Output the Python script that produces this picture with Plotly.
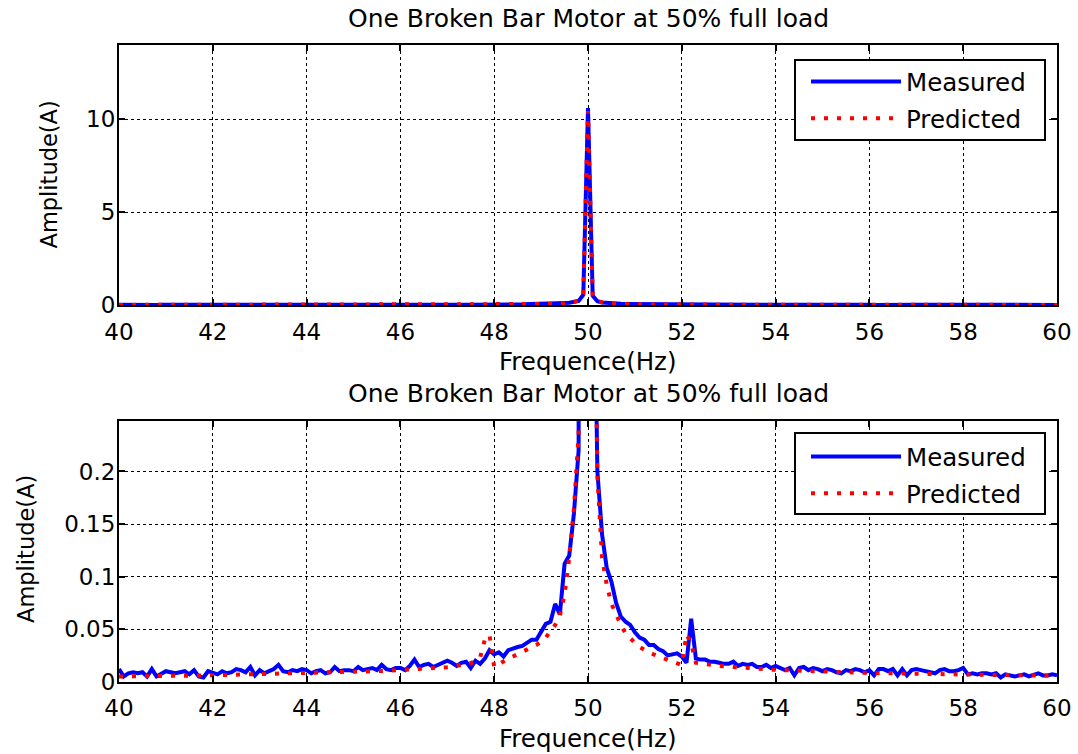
import plotly.graph_objects as go

# Frequency grid of the spectrum (Hz), 0.1 Hz resolution
freq = [round(40 + 0.1 * i, 1) for i in range(201)]

# Measured stator current spectrum (A)
measured = [
    # 40.0 - 40.9
    0.012, 0.005, 0.008, 0.009, 0.008, 0.009, 0.005, 0.012, 0.005, 0.008,
    # 41.0 - 41.9
    0.010, 0.009, 0.008, 0.009, 0.010, 0.007, 0.011, 0.005, 0.004, 0.010,
    # 42.0 - 42.9
    0.008, 0.007, 0.010, 0.008, 0.009, 0.012, 0.011, 0.009, 0.014, 0.006,
    # 43.0 - 43.9
    0.011, 0.008, 0.010, 0.012, 0.016, 0.010, 0.009, 0.011, 0.010, 0.012,
    # 44.0 - 44.9
    0.011, 0.008, 0.010, 0.011, 0.008, 0.009, 0.014, 0.010, 0.011, 0.011,
    # 45.0 - 45.9
    0.010, 0.014, 0.011, 0.012, 0.013, 0.011, 0.016, 0.012, 0.011, 0.013,
    # 46.0 - 46.9
    0.013, 0.011, 0.015, 0.021, 0.014, 0.016, 0.017, 0.014, 0.016, 0.017,
    # 47.0 - 47.9
    0.020, 0.018, 0.015, 0.018, 0.019, 0.013, 0.020, 0.017, 0.022, 0.030,
    # 48.0 - 48.9
    0.026, 0.028, 0.024, 0.030, 0.032, 0.033, 0.034, 0.037, 0.040, 0.040,
    # 49.0 - 49.9
    0.047, 0.055, 0.057, 0.074, 0.064, 0.112, 0.120, 0.160, 0.220, 0.550,
    # 50.0
    10.60,
    # 50.1 - 50.9
    0.500, 0.200, 0.140, 0.108, 0.095, 0.075, 0.062, 0.057, 0.054,
    # 51.0 - 51.9
    0.047, 0.042, 0.040, 0.035, 0.035, 0.031, 0.029, 0.025, 0.026, 0.027,
    # 52.0 - 52.9
    0.024, 0.018, 0.060, 0.022, 0.021, 0.021, 0.019, 0.019, 0.018, 0.017,
    # 53.0 - 53.9
    0.017, 0.019, 0.015, 0.017, 0.016, 0.017, 0.014, 0.014, 0.016, 0.013,
    # 54.0 - 54.9
    0.015, 0.013, 0.011, 0.013, 0.006, 0.013, 0.014, 0.011, 0.013, 0.012,
    # 55.0 - 55.9
    0.010, 0.012, 0.011, 0.009, 0.008, 0.011, 0.010, 0.012, 0.011, 0.009,
    # 56.0 - 56.9
    0.011, 0.006, 0.012, 0.012, 0.010, 0.012, 0.006, 0.012, 0.006, 0.011,
    # 57.0 - 57.9
    0.012, 0.011, 0.010, 0.009, 0.008, 0.011, 0.012, 0.010, 0.010, 0.011,
    # 58.0 - 58.9
    0.013, 0.007, 0.008, 0.007, 0.008, 0.008, 0.007, 0.008, 0.004, 0.007,
    # 59.0 - 59.9
    0.006, 0.005, 0.006, 0.007, 0.005, 0.007, 0.008, 0.006, 0.006, 0.007,
    # 60.0
    0.006,
]

# Model-predicted spectrum (A)
predicted = [
    # 40.0 - 40.9
    0.0050, 0.0050, 0.0051, 0.0051, 0.0052, 0.0052, 0.0053, 0.0053, 0.0054, 0.0054,
    # 41.0 - 41.9
    0.0055, 0.0055, 0.0056, 0.0056, 0.0057, 0.0057, 0.0058, 0.0059, 0.0059, 0.0060,
    # 42.0 - 42.9
    0.0061, 0.0061, 0.0062, 0.0063, 0.0063, 0.0064, 0.0065, 0.0066, 0.0066, 0.0067,
    # 43.0 - 43.9
    0.0068, 0.0069, 0.0070, 0.0071, 0.0072, 0.0073, 0.0074, 0.0075, 0.0076, 0.0077,
    # 44.0 - 44.9
    0.0078, 0.0079, 0.0080, 0.0081, 0.0083, 0.0084, 0.0085, 0.0087, 0.0088, 0.0090,
    # 45.0 - 45.9
    0.0091, 0.0093, 0.0095, 0.0096, 0.0098, 0.0100, 0.0102, 0.0104, 0.0106, 0.0108,
    # 46.0 - 46.9
    0.0110, 0.0112, 0.0115, 0.0117, 0.0120, 0.0122, 0.0125, 0.0128, 0.0131, 0.0134,
    # 47.0 - 47.9
    0.0138, 0.0142, 0.0150, 0.0158, 0.0166, 0.0178, 0.0195, 0.0230, 0.0400, 0.0445,
    # 48.0 - 48.9
    0.0140, 0.0170, 0.0190, 0.0220, 0.0240, 0.0260, 0.0280, 0.0300, 0.0320, 0.0350,
    # 49.0 - 49.9
    0.0380, 0.0420, 0.0480, 0.0540, 0.0630, 0.0830, 0.1180, 0.1650, 0.2350, 0.6000,
    # 50.0
    10.45,
    # 50.1 - 50.9
    0.5500, 0.1950, 0.1180, 0.0920, 0.0740, 0.0630, 0.0540, 0.0460, 0.0410,
    # 51.0 - 51.9
    0.0370, 0.0330, 0.0300, 0.0280, 0.0260, 0.0240, 0.0225, 0.0210, 0.0190, 0.0175,
    # 52.0 - 52.9
    0.0160, 0.0450, 0.0360, 0.0180, 0.0172, 0.0166, 0.0160, 0.0155, 0.0150, 0.0146,
    # 53.0 - 53.9
    0.0142, 0.0138, 0.0134, 0.0131, 0.0128, 0.0125, 0.0122, 0.0120, 0.0117, 0.0115,
    # 54.0 - 54.9
    0.0113, 0.0111, 0.0109, 0.0107, 0.0105, 0.0103, 0.0101, 0.0100, 0.0098, 0.0097,
    # 55.0 - 55.9
    0.0095, 0.0094, 0.0092, 0.0091, 0.0090, 0.0088, 0.0087, 0.0086, 0.0085, 0.0084,
    # 56.0 - 56.9
    0.0083, 0.0082, 0.0081, 0.0080, 0.0079, 0.0078, 0.0077, 0.0076, 0.0076, 0.0075,
    # 57.0 - 57.9
    0.0074, 0.0073, 0.0073, 0.0072, 0.0071, 0.0071, 0.0070, 0.0069, 0.0069, 0.0068,
    # 58.0 - 58.9
    0.0067, 0.0067, 0.0066, 0.0066, 0.0065, 0.0065, 0.0064, 0.0064, 0.0063, 0.0063,
    # 59.0 - 59.9
    0.0062, 0.0062, 0.0061, 0.0061, 0.0060, 0.0060, 0.0059, 0.0059, 0.0058, 0.0058,
    # 60.0
    0.0058,
]

x_ticks = [40, 42, 44, 46, 48, 50, 52, 54, 56, 58, 60]
y_ticks_full = [0, 5, 10]
y_ticks_zoom = [0, 0.05, 0.1, 0.15, 0.2]

title_text = "One Broken Bar Motor at 50% full load"
x_title = "Frequence(Hz)"
y_title = "Amplitude(A)"
series_names = ["Measured", "Predicted"]

W, H = 1078, 754
FONT = "DejaVu Sans"


def px_x(p):
    return p / W


def px_y(p):
    return 1 - p / H


fig = go.Figure()

for axis_suffix, legend_name in (("", "legend"), ("2", "legend2")):
    fig.add_trace(go.Scatter(
        x=freq, y=measured, mode="lines", name=series_names[0],
        line=dict(color="#0000ff", width=4),
        xaxis="x" + axis_suffix, yaxis="y" + axis_suffix, legend=legend_name,
        legendgroup=legend_name + "m",
    ))
    fig.add_trace(go.Scatter(
        x=freq, y=predicted, mode="lines", name=series_names[1],
        line=dict(color="#ff0000", width=4, dash="4px,9px"),
        xaxis="x" + axis_suffix, yaxis="y" + axis_suffix, legend=legend_name,
        legendgroup=legend_name + "p",
    ))

axis_common = dict(
    showline=True, linecolor="black", linewidth=2, mirror="ticks",
    ticks="inside", ticklen=6, tickwidth=1.5, tickcolor="black",
    showgrid=True, gridcolor="black", gridwidth=1, griddash="3px,3px",
    zeroline=False, automargin=False,
    tickfont=dict(family=FONT, size=23, color="black"),
)

x_dom = [px_x(119), px_x(1057)]
top_dom = [px_y(305), px_y(45)]
bot_dom = [px_y(681.7), px_y(421)]


def legend_style(top_px):
    return dict(
        x=px_x(806), xanchor="left", y=px_y(top_px), yanchor="top",
        bgcolor="rgba(0,0,0,0)", borderwidth=0,
        font=dict(family=FONT, size=24.5, color="black"),
        itemwidth=90, tracegroupgap=2, traceorder="grouped",
    )


fig.update_layout(
    width=W, height=H,
    margin=dict(l=0, r=0, t=0, b=0, pad=0, autoexpand=False),
    paper_bgcolor="white", plot_bgcolor="white",
    font=dict(family=FONT, color="black"),
    xaxis=dict(axis_common, domain=x_dom, range=[40, 60], tickvals=x_ticks, anchor="y",
               ticklabelstandoff=5),
    yaxis=dict(axis_common, domain=top_dom, range=[0, 14], tickvals=y_ticks_full, anchor="x",
               ticklabelstandoff=-3),
    xaxis2=dict(axis_common, domain=x_dom, range=[40, 60], tickvals=x_ticks, anchor="y2",
                ticklabelstandoff=5),
    yaxis2=dict(axis_common, domain=bot_dom, range=[0, 0.248], tickvals=y_ticks_zoom, anchor="x2",
                ticklabelstandoff=-3),
    legend=legend_style(59),
    legend2=legend_style(434),
    showlegend=True,
)

# Legend frames (white boxes with black outline under the legend entries)
shapes = []
for y0, y1 in ((60, 140), (433, 514)):
    shapes.append(dict(type="rect", xref="paper", yref="paper",
                       x0=px_x(795), x1=px_x(1045), y0=px_y(y1), y1=px_y(y0),
                       fillcolor="white", line=dict(color="black", width=2), layer="above"))
fig.update_layout(shapes=shapes)

annotations = []
for cy in (19, 393):
    annotations.append(dict(text=title_text, x=px_x(588), y=px_y(cy), xref="paper", yref="paper",
                            xanchor="center", yanchor="middle", showarrow=False,
                            font=dict(family=FONT, size=25, color="black")))
for cy in (362, 738):
    annotations.append(dict(text=x_title, x=px_x(588), y=px_y(cy), xref="paper", yref="paper",
                            xanchor="center", yanchor="middle", showarrow=False,
                            font=dict(family=FONT, size=24.5, color="black")))
for cx, cy in ((48.5, 175), (26, 549)):
    annotations.append(dict(text=y_title, x=px_x(cx), y=px_y(cy), xref="paper", yref="paper",
                            xanchor="center", yanchor="middle", showarrow=False, textangle=-90,
                            font=dict(family=FONT, size=22.5, color="black")))
fig.update_layout(annotations=annotations)

fig.write_html("out.html")
